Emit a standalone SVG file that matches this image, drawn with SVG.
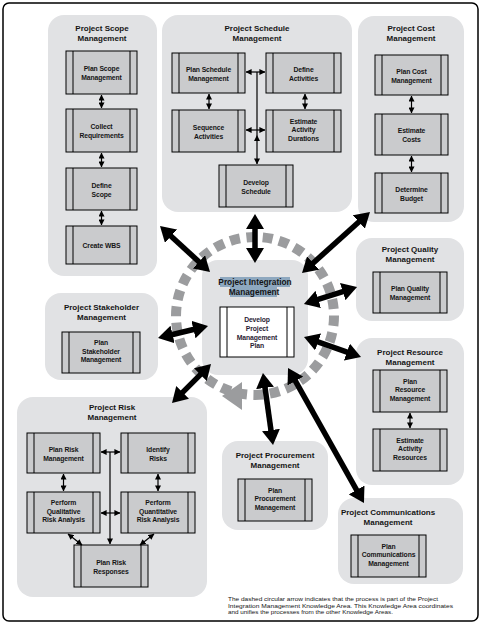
<svg xmlns="http://www.w3.org/2000/svg" width="483" height="625" viewBox="0 0 483 625">
<style>
.panel{fill:#e1e2e4}
.box{fill:#cacbcd;stroke:#000;stroke-width:1}
.wbox{fill:#fff;stroke:#000;stroke-width:1}
.bar{stroke:#000;stroke-width:1}
text{font-family:"Liberation Sans",Arial,sans-serif;font-weight:bold;text-anchor:middle;fill:#151515}
.h{font-size:8px}
.b{font-size:6.8px;letter-spacing:-0.1px}
.note{font-size:6.1px;font-weight:normal;text-anchor:start}
.thin{stroke:#000;stroke-width:1.2;fill:none}
.thick{stroke:#000;stroke-width:5.5;fill:none;marker-start:url(#big);marker-end:url(#big)}
.d2{marker-start:url(#sm);marker-end:url(#sm)}
.d1{marker-end:url(#sm)}
</style>
<defs>
<marker id="sm" viewBox="0 0 6 6" refX="5.6" refY="3" markerWidth="6" markerHeight="6" markerUnits="userSpaceOnUse" orient="auto-start-reverse"><path d="M0,0L6,3L0,6z" fill="#000"/></marker>
<marker id="big" viewBox="0 0 15 18" refX="1" refY="9" markerWidth="15" markerHeight="18" markerUnits="userSpaceOnUse" orient="auto-start-reverse"><path d="M0,0L15,9L0,18z" fill="#000"/></marker>
</defs>
<rect x="3" y="3" width="475" height="618" rx="6" fill="#fff" stroke="#000" stroke-width="1.5"/>

<g id="dashed-circle">
<circle cx="255" cy="316" r="79" fill="none" stroke="#9b9c9e" stroke-width="10" stroke-dasharray="10 6.5"/>
<polygon points="222,396 242,382 242,410" fill="#9b9c9e"/>
</g>

<g id="scope">
<rect class="panel" x="48" y="15" width="109" height="261" rx="16"/>
<text class="h" x="102" y="31">Project Scope</text><text class="h" x="102" y="41">Management</text>
<rect class="box" x="66" y="51" width="71" height="43"/><path class="bar" d="M73,51V94M130,51V94"/>
<text class="b" x="101.5" y="71">Plan Scope</text><text class="b" x="101.5" y="80">Management</text>
<rect class="box" x="66" y="109" width="71" height="43"/><path class="bar" d="M73,109V152M130,109V152"/>
<text class="b" x="101.5" y="129">Collect</text><text class="b" x="101.5" y="138">Requirements</text>
<rect class="box" x="66" y="168" width="71" height="42"/><path class="bar" d="M73,168V210M130,168V210"/>
<text class="b" x="101.5" y="187.5">Define</text><text class="b" x="101.5" y="196.5">Scope</text>
<rect class="box" x="66" y="226" width="71" height="38"/><path class="bar" d="M73,226V264M130,226V264"/>
<text class="b" x="101.5" y="247.5">Create WBS</text>
</g>

<g id="schedule">
<rect class="panel" x="162" y="15" width="190" height="197" rx="16"/>
<text class="h" x="257" y="31">Project Schedule</text><text class="h" x="257" y="41">Management</text>
<rect class="box" x="172" y="53" width="73" height="40"/><path class="bar" d="M179,53V93M238,53V93"/>
<text class="b" x="208.5" y="71.5">Plan Schedule</text><text class="b" x="208.5" y="80.5">Management</text>
<rect class="box" x="266" y="53" width="75" height="40"/><path class="bar" d="M273,53V93M334,53V93"/>
<text class="b" x="303.5" y="71.5">Define</text><text class="b" x="303.5" y="80.5">Activities</text>
<rect class="box" x="172" y="110" width="73" height="42"/><path class="bar" d="M179,110V152M238,110V152"/>
<text class="b" x="208.5" y="129.5">Sequence</text><text class="b" x="208.5" y="138.5">Activities</text>
<rect class="box" x="266" y="110" width="75" height="42"/><path class="bar" d="M273,110V152M334,110V152"/>
<text class="b" x="303.5" y="123.5">Estimate</text><text class="b" x="303.5" y="132">Activity</text><text class="b" x="303.5" y="140.5">Durations</text>
<rect class="box" x="219" y="165" width="74" height="42"/><path class="bar" d="M226,165V207M286,165V207"/>
<text class="b" x="256" y="184.5">Develop</text><text class="b" x="256" y="193.5">Schedule</text>
</g>

<g id="cost">
<rect class="panel" x="358" y="16" width="106" height="206" rx="16"/>
<text class="h" x="411" y="31">Project Cost</text><text class="h" x="411" y="41">Management</text>
<rect class="box" x="375" y="55" width="73" height="40"/><path class="bar" d="M382,55V95M441,55V95"/>
<text class="b" x="411.5" y="73.5">Plan Cost</text><text class="b" x="411.5" y="82.5">Management</text>
<rect class="box" x="375" y="114" width="73" height="41"/><path class="bar" d="M382,114V155M441,114V155"/>
<text class="b" x="411.5" y="133">Estimate</text><text class="b" x="411.5" y="142">Costs</text>
<rect class="box" x="375" y="173" width="73" height="40"/><path class="bar" d="M382,173V213M441,173V213"/>
<text class="b" x="411.5" y="191.5">Determine</text><text class="b" x="411.5" y="200.5">Budget</text>
</g>

<g id="quality">
<rect class="panel" x="356" y="238" width="108" height="83" rx="16"/>
<text class="h" x="410" y="252">Project Quality</text><text class="h" x="410" y="262">Management</text>
<rect class="box" x="373" y="272" width="74" height="41"/><path class="bar" d="M380,272V313M440,272V313"/>
<text class="b" x="410" y="291">Plan Quality</text><text class="b" x="410" y="300">Management</text>
</g>

<g id="resource">
<rect class="panel" x="356" y="338" width="108" height="147" rx="16"/>
<text class="h" x="410" y="355">Project Resource</text><text class="h" x="410" y="365">Management</text>
<rect class="box" x="373" y="370" width="74" height="42"/><path class="bar" d="M380,370V412M440,370V412"/>
<text class="b" x="410" y="383.5">Plan</text><text class="b" x="410" y="392">Resource</text><text class="b" x="410" y="400.5">Management</text>
<rect class="box" x="373" y="429" width="74" height="42"/><path class="bar" d="M380,429V471M440,429V471"/>
<text class="b" x="410" y="442.5">Estimate</text><text class="b" x="410" y="451">Activity</text><text class="b" x="410" y="459.5">Resources</text>
</g>

<g id="stakeholder">
<rect class="panel" x="45" y="293" width="113" height="87" rx="16"/>
<text class="h" x="101.5" y="310">Project Stakeholder</text><text class="h" x="101.5" y="320">Management</text>
<rect class="box" x="62" y="332" width="78" height="41"/><path class="bar" d="M69,332V373M133,332V373"/>
<text class="b" x="101" y="345">Plan</text><text class="b" x="101" y="353.5">Stakeholder</text><text class="b" x="101" y="362">Management</text>
</g>

<g id="risk">
<rect class="panel" x="17" y="397" width="190" height="200" rx="16"/>
<text class="h" x="112" y="410">Project Risk</text><text class="h" x="112" y="420">Management</text>
<rect class="box" x="27" y="433" width="73" height="40"/><path class="bar" d="M34,433V473M93,433V473"/>
<text class="b" x="63.5" y="451.5">Plan Risk</text><text class="b" x="63.5" y="460.5">Management</text>
<rect class="box" x="121" y="433" width="74" height="40"/><path class="bar" d="M128,433V473M188,433V473"/>
<text class="b" x="158" y="451.5">Identify</text><text class="b" x="158" y="460.5">Risks</text>
<rect class="box" x="27" y="492" width="73" height="41"/><path class="bar" d="M34,492V533M93,492V533"/>
<text class="b" x="63.5" y="505">Perform</text><text class="b" x="63.5" y="513.5">Qualitative</text><text class="b" x="63.5" y="522">Risk Analysis</text>
<rect class="box" x="121" y="492" width="74" height="41"/><path class="bar" d="M128,492V533M188,492V533"/>
<text class="b" x="158" y="505">Perform</text><text class="b" x="158" y="513.5">Quantitative</text><text class="b" x="158" y="522">Risk Analysis</text>
<rect class="box" x="74" y="545" width="74" height="42"/><path class="bar" d="M81,545V587M141,545V587"/>
<text class="b" x="111" y="564.5">Plan Risk</text><text class="b" x="111" y="573.5">Responses</text>
</g>

<g id="procurement">
<rect class="panel" x="222" y="441" width="106" height="89" rx="16"/>
<text class="h" x="275" y="458">Project Procurement</text><text class="h" x="275" y="468">Management</text>
<rect class="box" x="238" y="479" width="74" height="42"/><path class="bar" d="M245,479V521M305,479V521"/>
<text class="b" x="275" y="492.5">Plan</text><text class="b" x="275" y="501">Procurement</text><text class="b" x="275" y="509.5">Management</text>
</g>

<g id="communications">
<rect class="panel" x="338" y="498" width="125" height="86" rx="16"/>
<text class="h" x="388" y="515">Project Communications</text><text class="h" x="388" y="525">Management</text>
<rect class="box" x="351" y="535" width="75" height="42"/><path class="bar" d="M358,535V577M419,535V577"/>
<text class="b" x="388.5" y="548.5">Plan</text><text class="b" x="388.5" y="557">Communications</text><text class="b" x="388.5" y="565.5">Management</text>
</g>

<g id="integration">
<rect class="panel" x="202" y="260" width="106" height="115" rx="16"/>
<rect x="220" y="277" width="70" height="10" fill="#8ea8bf"/>
<rect x="230" y="287" width="47" height="10" fill="#8ea8bf"/>
<text class="h" x="255" y="285" style="font-size:8.3px">Project Integration</text>
<text class="h" x="254" y="295" style="font-size:8.3px">Management</text>
<rect class="wbox" x="220" y="307" width="74" height="50"/><path class="bar" d="M227,307V357M287,307V357"/>
<text class="b" x="257" y="322" style="fill:#2a1c34">Develop</text>
<text class="b" x="257" y="331" style="fill:#2a1c34">Project</text>
<text class="b" x="257" y="339.5" style="fill:#2a1c34">Management</text>
<text class="b" x="257" y="348" style="fill:#2a1c34">Plan</text>
</g>

<g id="connectors">
<path class="thin d2" d="M101.5,95V108"/>
<path class="thin d2" d="M101.5,153V167"/>
<path class="thin d2" d="M101.5,211V225"/>
<path class="thin d2" d="M246,72H265"/>
<path class="thin d2" d="M246,130H265"/>
<path class="thin d2" d="M209,94V109"/>
<path class="thin d2" d="M305,94V109"/>
<path class="thin d2" d="M411.5,96V113"/>
<path class="thin d2" d="M411.5,156V172"/>
<path class="thin d2" d="M410,413V428"/>
<path class="thin d1" d="M257,72V164"/>
<polygon points="257,135 254,141 260,141" fill="#000"/>
<path class="thin d2" d="M101,452H120"/>
<path class="thin d2" d="M101,513H120"/>
<path class="thin d2" d="M63.5,474V491"/>
<path class="thin d2" d="M158,474V491"/>
<path class="thin d2" d="M68,534L82,545"/>
<path class="thin d2" d="M154,534L140,545"/>
<path class="thin d1" d="M110,452V544"/>
<path class="thick" d="M170.3,235.5L199.7,262.5"/>
<path class="thick" d="M255,228V249"/>
<path class="thick" d="M359.6,221.3L312.4,263.7"/>
<path class="thick" d="M343.7,291.3L317.3,299.7"/>
<path class="thick" d="M317.2,341.6L347.8,352.4"/>
<path class="thick" d="M171.6,334.7L194.4,329.3"/>
<path class="thick" d="M181.9,393.1L201.1,373.9"/>
<path class="thick" d="M264.9,386.9L271.1,431.1"/>
<path class="thick" d="M294.9,380.2L357.1,490.8"/>
</g>

<g id="note">
<text class="note" x="228" y="601" textLength="210" lengthAdjust="spacingAndGlyphs">The dashed circular arrow indicates that the process is part of the Project</text>
<text class="note" x="228" y="607.5" textLength="225" lengthAdjust="spacingAndGlyphs">Integration Management Knowledge Area. This Knowledge Area coordinates</text>
<text class="note" x="228" y="614" textLength="165" lengthAdjust="spacingAndGlyphs">and unifies the processes from the other Knowledge Areas.</text>
</g>
</svg>
